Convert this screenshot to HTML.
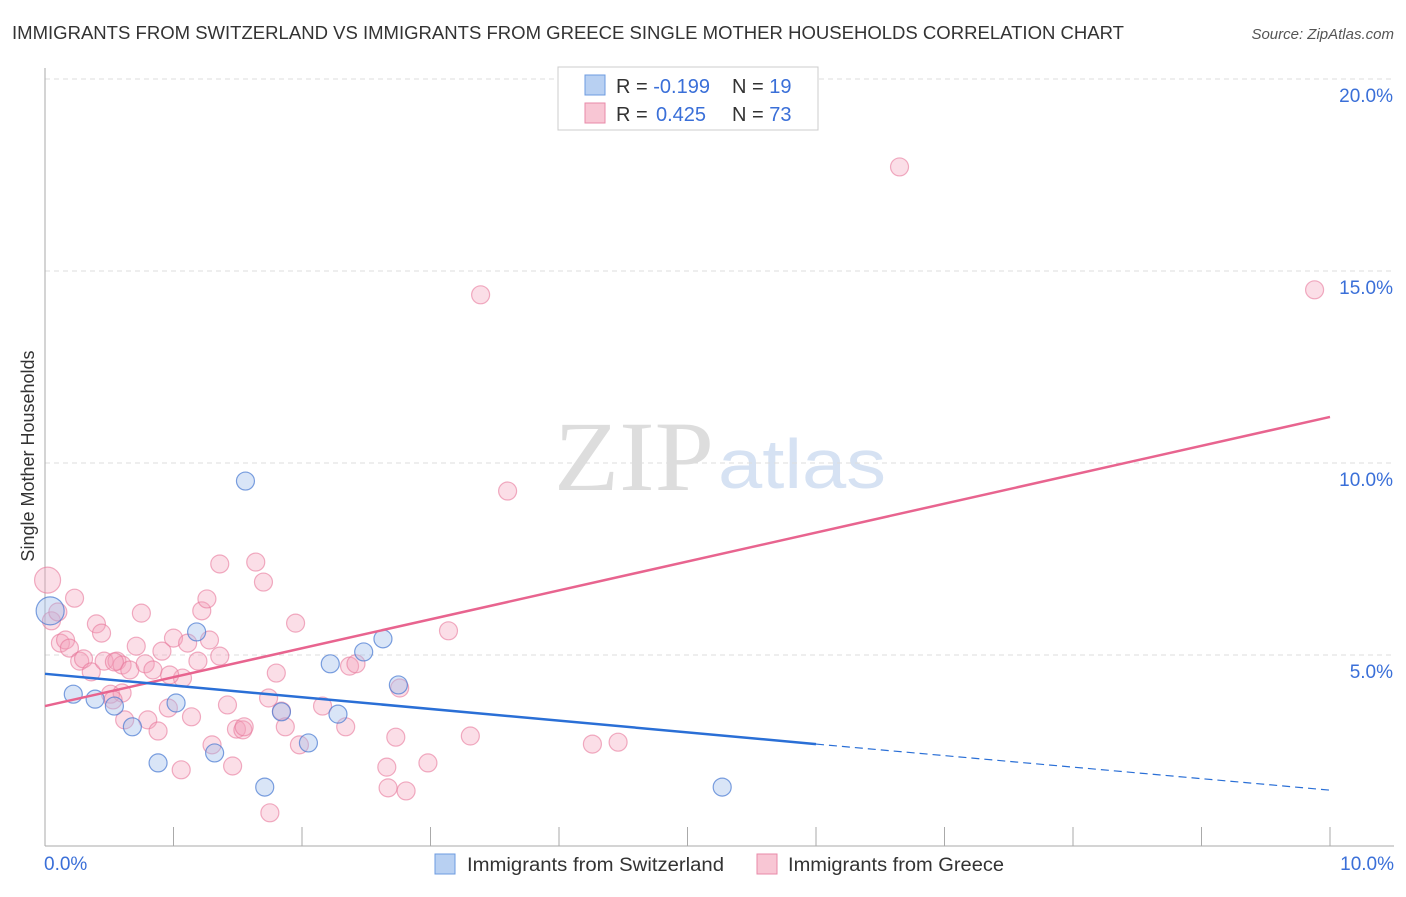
<!DOCTYPE html>
<html><head><meta charset="utf-8"><style>
body{margin:0;background:#fff;font-family:"Liberation Sans",sans-serif;}
svg text{font-family:"Liberation Sans",sans-serif;}
</style></head><body>
<svg id="chart" width="1406" height="892">
<text x="12" y="39" font-size="18" fill="#333" textLength="1112" lengthAdjust="spacingAndGlyphs">IMMIGRANTS FROM SWITZERLAND VS IMMIGRANTS FROM GREECE SINGLE MOTHER HOUSEHOLDS CORRELATION CHART</text>
<text x="1394" y="39" font-size="15" fill="#555" font-style="italic" text-anchor="end">Source: ZipAtlas.com</text>
<text x="714" y="490" font-size="100" fill="#ddd" text-anchor="end" style="font-family:'Liberation Serif',serif" textLength="160" lengthAdjust="spacingAndGlyphs">ZIP</text>
<text x="718" y="488" font-size="70" fill="#d6e2f3" textLength="168" lengthAdjust="spacingAndGlyphs">atlas</text>
<text transform="translate(34,456) rotate(-90)" font-size="18" fill="#333" text-anchor="middle">Single Mother Households</text>
<g id="grid"></g><g id="axes"></g><g id="pts"></g><g id="lines"></g>
<g>
<rect x="558" y="67" width="260" height="63" fill="#fff" stroke="#ccc"/>
<rect x="585" y="75" width="20" height="20" fill="#b8d0f2" stroke="#6d9be0"/>
<rect x="585" y="103" width="20" height="20" fill="#f8c6d4" stroke="#e88aa8"/>
<text x="616" y="93" font-size="20" fill="#333">R = <tspan fill="#3a6fd8">-0.199</tspan><tspan x="732">N = </tspan><tspan fill="#3a6fd8">19</tspan></text>
<text x="616" y="121" font-size="20" fill="#333">R = <tspan fill="#3a6fd8" x="656">0.425</tspan><tspan x="732">N = </tspan><tspan fill="#3a6fd8">73</tspan></text>
</g>
<g>
<rect x="435" y="854" width="20" height="20" fill="#b8d0f2" stroke="#6d9be0"/>
<text x="467" y="871" font-size="19" fill="#333" textLength="257" lengthAdjust="spacingAndGlyphs">Immigrants from Switzerland</text>
<rect x="757" y="854" width="20" height="20" fill="#f8c6d4" stroke="#e88aa8"/>
<text x="788" y="871" font-size="19" fill="#333" textLength="216" lengthAdjust="spacingAndGlyphs">Immigrants from Greece</text>
</g>
</svg>
<script>
const yTicks=[5,10,15,20];
const yTickLabels=["5.0%","10.0%","15.0%","20.0%"];
const xTickValues=[0,1,2,3,4,5,6,7,8,9,10];
const xEndLabels=["0.0%","10.0%"];
const swissX=[0.04,0.22,0.39,0.54,0.68,0.88,1.02,1.18,1.32,1.56,1.71,1.84,2.05,2.22,2.28,2.48,2.63,2.75,5.27];
const swissY=[6.15,3.98,3.85,3.67,3.13,2.19,3.75,5.60,2.45,9.53,1.56,3.52,2.71,4.77,3.46,5.08,5.42,4.22,1.56];
const greeceX=[0.02,0.23,0.05,0.12,0.16,0.19,0.40,0.44,0.75,0.71,0.27,0.30,0.36,0.46,0.56,0.60,0.66,0.78,0.54,0.51,0.60,0.84,0.91,1.00,1.11,1.22,1.26,1.28,1.36,1.36,1.19,1.07,0.97,0.96,0.80,0.88,1.06,1.14,1.30,1.42,1.46,1.49,1.54,1.64,1.70,1.74,1.80,1.84,1.87,1.95,1.98,2.16,2.34,2.37,2.42,2.76,2.73,2.66,2.67,2.81,2.98,3.14,3.31,3.39,3.60,4.26,4.46,6.65,9.88,1.55,0.62,0.10,0.53,1.75];
const greeceY=[6.95,6.48,5.89,5.31,5.39,5.18,5.81,5.57,6.09,5.23,4.84,4.90,4.56,4.84,4.84,4.74,4.61,4.77,4.82,3.98,4.01,4.61,5.10,5.44,5.31,6.15,6.46,5.39,7.37,4.97,4.84,4.40,4.48,3.62,3.31,3.02,2.01,3.39,2.66,3.70,2.11,3.07,3.05,7.42,6.90,3.88,4.53,3.54,3.13,5.83,2.66,3.67,3.13,4.71,4.77,4.14,2.86,2.08,1.54,1.46,2.19,5.63,2.89,14.38,9.27,2.68,2.73,17.71,14.51,3.13,3.31,6.12,3.83,0.89];
const swissTrend=[4.51,2.68,1.48];
const swissTrendX=[0,6,10];
const greeceTrend=[3.67,11.2];
const greeceTrendX=[0,10];
const NS="http://www.w3.org/2000/svg";
const X=v=>45+v*128.5, Y=v=>847-v*38.4;
function mk(tag,a,parent){const e=document.createElementNS(NS,tag);for(const k in a)e.setAttribute(k,a[k]);document.getElementById(parent).appendChild(e);return e;}
yTicks.forEach((t,i)=>{
 const l=mk('line',{x1:45,x2:1394,y1:Y(t),y2:Y(t),stroke:'#ddd','stroke-dasharray':'5,4'},'grid');
 
 
 const tx=mk('text',{x:1393,y:Y(t)+23,'font-size':19,fill:'#3a6fd8','text-anchor':'end'},'grid');tx.textContent=yTickLabels[i];
 
 
});
const ax=mk('line',{x1:45,x2:45,y1:68,y2:846,stroke:'#aaa'},'axes');


const bx=mk('line',{x1:45,x2:1394,y1:846,y2:846,stroke:'#aaa'},'axes');


xTickValues.forEach(v=>{const t=mk('line',{x1:X(v),x2:X(v),y1:827,y2:846,stroke:'#aaa'},'axes');
 
 });
[[0,'start',44],[10,'end',1394]].forEach((d,i)=>{const t=mk('text',{x:d[2],y:870,'font-size':19,fill:'#3a6fd8','text-anchor':d[1]},'axes');t.textContent=xEndLabels[i];
 
 });
greeceX.forEach((x,i)=>{const c=mk('circle',{cx:X(x),cy:Y(greeceY[i]),r:i==0?13:9,fill:'rgba(244,160,185,0.35)',stroke:'rgba(232,120,155,0.6)','stroke-width':1.2},'pts');
 
 });
swissX.forEach((x,i)=>{const c=mk('circle',{cx:X(x),cy:Y(swissY[i]),r:i==0?14:9,fill:'rgba(160,190,235,0.4)',stroke:'rgba(70,120,210,0.7)','stroke-width':1.2},'pts');
 
 });
const pl=mk('line',{x1:X(greeceTrendX[0]),y1:Y(greeceTrend[0]),x2:X(greeceTrendX[1]),y2:Y(greeceTrend[1]),stroke:'#e8648f','stroke-width':2.5},'lines');


const bl=mk('line',{x1:X(swissTrendX[0]),y1:Y(swissTrend[0]),x2:X(swissTrendX[1]),y2:Y(swissTrend[1]),stroke:'#2a6fd6','stroke-width':2.5},'lines');


const bd=mk('line',{x1:X(swissTrendX[1]),y1:Y(swissTrend[1]),x2:X(swissTrendX[2]),y2:Y(swissTrend[2]),stroke:'#2a6fd6','stroke-width':1.2,'stroke-dasharray':'8,5'},'lines');


</script>
</body></html>
